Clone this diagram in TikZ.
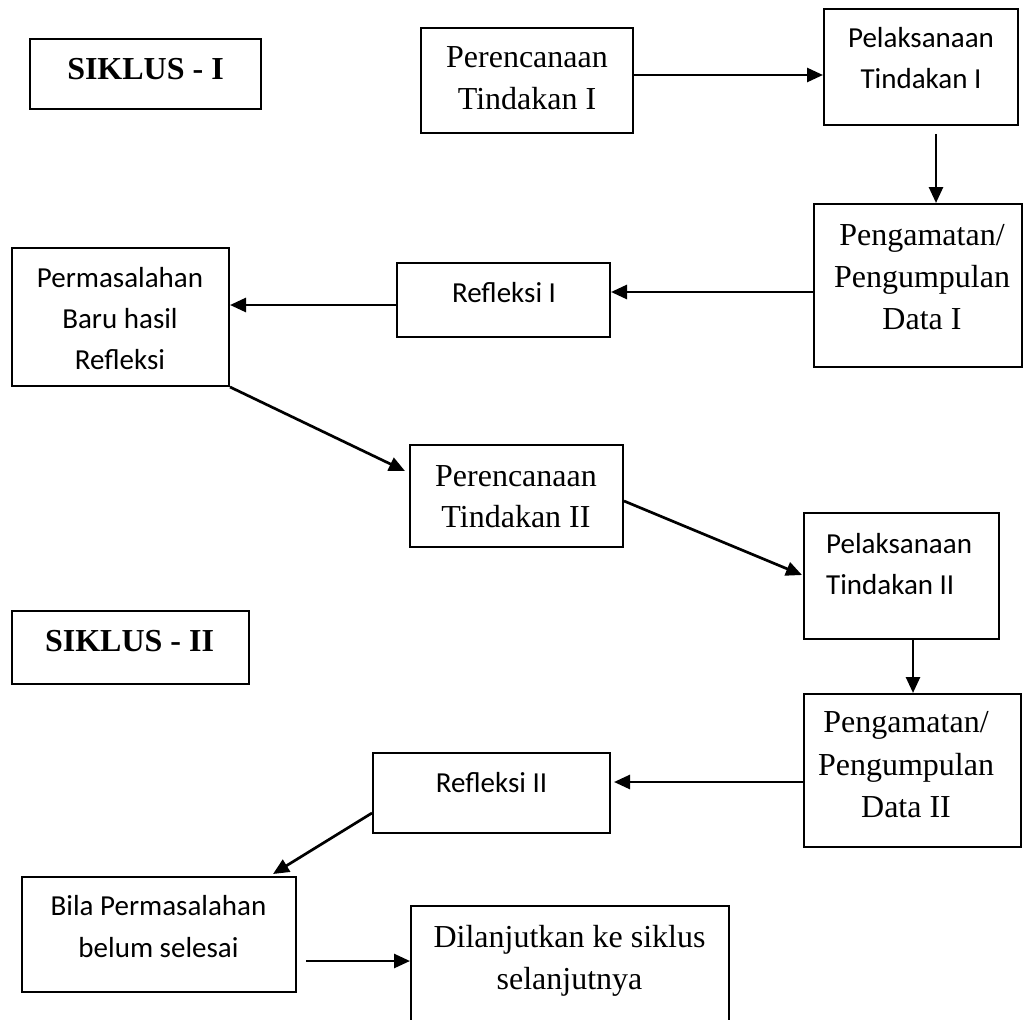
\documentclass[tikz,border=0pt]{standalone}
\usepackage{fontspec}
\usetikzlibrary{arrows.meta,calc}
\newfontfamily\serfam{Liberation Serif}
\newfontfamily\sanfam{Carlito}
\newcommand\serfont{\serfam\fontsize{32}{42}\selectfont}
\newcommand\serbold{\serfam\bfseries\fontsize{32}{42}\selectfont}
\newcommand\sanfont{\sanfam\fontsize{29}{41}\selectfont}
\tikzset{
  box/.style={draw, line width=2pt, inner sep=0pt},
  ser/.style={font=\serfont, inner sep=0pt, anchor=base},
  serb/.style={font=\serbold, inner sep=0pt, anchor=base},
  san/.style={font=\sanfont, inner sep=0pt, anchor=base},
  arr/.style={line width=2.7pt, -{Triangle[length=16pt,width=14pt]}}
}
\begin{document}
\begin{tikzpicture}[x=1pt,y=-1pt]
\useasboundingbox (0,0) rectangle (1024,1019);
% boxes
\node[box, minimum width=231pt, minimum height=70pt] (s1) at (145.5,74) {};
\node[box, minimum width=212pt, minimum height=105pt] (pe1) at (527,80.5) {};
\node[box, minimum width=194pt, minimum height=116pt] (pl1) at (921,67) {};
\node[box, minimum width=208pt, minimum height=163pt] (pg1) at (918,285.5) {};
\node[box, minimum width=213pt, minimum height=74pt] (r1) at (503.5,300) {};
\node[box, minimum width=217pt, minimum height=138pt] (pm) at (120.5,317) {};
\node[box, minimum width=213pt, minimum height=102pt] (pe2) at (516.5,496) {};
\node[box, minimum width=195pt, minimum height=126pt] (pl2) at (901.5,576) {};
\node[box, minimum width=237pt, minimum height=73pt] (s2) at (130.5,647.5) {};
\node[box, minimum width=217pt, minimum height=153pt] (pg2) at (912.5,770.5) {};
\node[box, minimum width=237pt, minimum height=80pt] (r2) at (491.5,793) {};
\node[box, minimum width=274pt, minimum height=115pt] (bila) at (159,934.5) {};
\node[box, minimum width=318pt, minimum height=134pt] (dil) at (570,973) {};
% texts
\node[serb] (t-s1) at (145.5,80) {SIKLUS - I};
\node[ser] (t-pe1a) at (527,68) {Perencanaan};
\node[ser] (t-pe1b) at (527,110) {Tindakan I};
\node[san] (t-pl1a) at (921,48) {Pelaksanaan};
\node[san] (t-pl1b) at (921,89) {Tindakan I};
\node[ser] (t-pg1a) at (922,245) {Pengamatan/};
\node[ser] (t-pg1b) at (922,287) {Pengumpulan};
\node[ser] (t-pg1c) at (922,329) {Data I};
\node[san] (t-r1) at (504,302) {Refleksi I};
\node[san] (t-pma) at (120,287) {Permasalahan};
\node[san] (t-pmb) at (120,328) {Baru hasil};
\node[san] (t-pmc) at (120,369) {Refleksi};
\node[ser] (t-pe2a) at (516,486) {Perencanaan};
\node[ser] (t-pe2b) at (516,527) {Tindakan II};
\node[san, anchor=base west] (t-pl2a) at (826,553) {Pelaksanaan};
\node[san, anchor=base west] (t-pl2b) at (826,594) {Tindakan II};
\node[serb] (t-s2) at (129.5,651) {SIKLUS - II};
\node[ser] (t-pg2a) at (906,732) {Pengamatan/};
\node[ser] (t-pg2b) at (906,775) {Pengumpulan};
\node[ser] (t-pg2c) at (906,817) {Data II};
\node[san] (t-r2) at (491.5,792) {Refleksi II};
\node[san] (t-bila) at (158.5,915) {Bila Permasalahan};
\node[san] (t-bilb) at (158.5,957) {belum selesai};
\node[ser] (t-dila) at (569.5,947) {Dilanjutkan ke siklus};
\node[ser] (t-dilb) at (569.5,989) {selanjutnya};
% connectors
\draw[arr] (pe1.east |- 0,75) -- (pl1.west |- 0,75);
\draw[arr] ($(pl1.south -| 936,0)+(0,8)$) -- (pg1.north -| 936,0);
\draw[arr] (pg1.west |- 0,292) -- (r1.east |- 0,292);
\draw[arr] (r1.west |- 0,305) -- (pm.east |- 0,305);
\draw[arr] (pm.south east) -- ($(pe2.west |- 0,471)+(-4,0)$);
\draw[arr] (pe2.east |- 0,501) -- ($(pl2.west |- 0,575)+(-1,0)$);
\draw[arr] (pl2.south -| 913,0) -- (pg2.north -| 913,0);
\draw[arr] (pg2.west |- 0,782) -- ($(r2.east |- 0,782)+(3,0)$);
\draw[arr] (r2.west |- 0,813) -- ($(bila.north -| 273,0)+(0,-2)$);
\draw[arr] ($(bila.east |- 0,961)+(9,0)$) -- (dil.west |- 0,961);
\end{tikzpicture}
\end{document}
